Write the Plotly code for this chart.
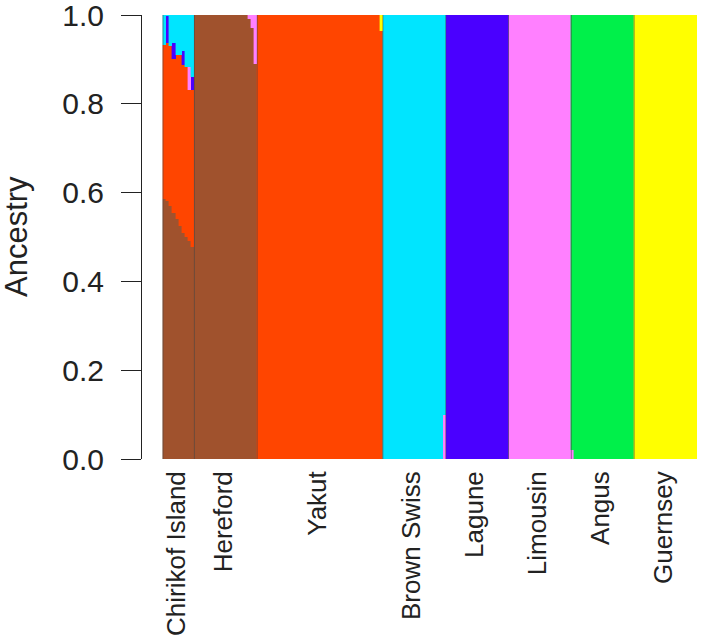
# Admixture barplot (K=7) in Plotly
import plotly.graph_objects as go

# population groups, in plotting order, and number of individuals in each
groups = ["Chirikof Island", "Hereford", "Yakut", "Brown Swiss",
          "Lagune", "Limousin", "Angus", "Guernsey"]
group_sizes = [10, 20, 40, 20, 20, 20, 20, 20]

# ancestry components, bottom to top of the stack, and their colours
components = ["Hereford", "Yakut", "Lagune", "Limousin", "Brown Swiss", "Angus", "Guernsey"]
comp_colors = ["#A0522D", "#FF4500", "#4A00FF", "#FF80FF", "#00E5FF", "#00F04A", "#FFFF00"]

# per-individual ancestry fractions
chirikof_hereford = [0.585, 0.58, 0.57, 0.555, 0.54, 0.525, 0.51, 0.50, 0.49, 0.478]
chirikof_yakut = [0.347, 0.357, 0.36, 0.345, 0.37, 0.385, 0.377, 0.383, 0.34, 0.352]
chirikof_lagune = [0.0, 0.06, 0.0, 0.037, 0.0, 0.0, 0.033, 0.0, 0.0, 0.03]
chirikof_limousin = [0.0, 0.0, 0.0, 0.0, 0.0, 0.0, 0.0, 0.0, 0.053, 0.0]
chirikof_brownswiss = [0.068, 0.003, 0.07, 0.063, 0.09, 0.09, 0.08, 0.117, 0.117, 0.14]

hereford_hereford = [1.0, 1.0, 1.0, 1.0, 1.0, 1.0, 1.0, 1.0, 1.0, 1.0,
                     1.0, 1.0, 1.0, 1.0, 1.0, 1.0, 1.0, 0.99, 0.97, 0.89]
hereford_limousin = [0.0, 0.0, 0.0, 0.0, 0.0, 0.0, 0.0, 0.0, 0.0, 0.0,
                     0.0, 0.0, 0.0, 0.0, 0.0, 0.0, 0.0, 0.01, 0.03, 0.11]

yakut_yakut = [1.0, 1.0, 1.0, 1.0, 1.0, 1.0, 1.0, 1.0, 1.0, 1.0,
               1.0, 1.0, 1.0, 1.0, 1.0, 1.0, 1.0, 1.0, 1.0, 1.0,
               1.0, 1.0, 1.0, 1.0, 1.0, 1.0, 1.0, 1.0, 1.0, 1.0,
               1.0, 1.0, 1.0, 1.0, 1.0, 1.0, 1.0, 1.0, 1.0, 0.965]
yakut_guernsey = [0.0, 0.0, 0.0, 0.0, 0.0, 0.0, 0.0, 0.0, 0.0, 0.0,
                  0.0, 0.0, 0.0, 0.0, 0.0, 0.0, 0.0, 0.0, 0.0, 0.0,
                  0.0, 0.0, 0.0, 0.0, 0.0, 0.0, 0.0, 0.0, 0.0, 0.0,
                  0.0, 0.0, 0.0, 0.0, 0.0, 0.0, 0.0, 0.0, 0.0, 0.035]

brownswiss_limousin = [0.0, 0.0, 0.0, 0.0, 0.0, 0.0, 0.0, 0.0, 0.0, 0.0,
                       0.0, 0.0, 0.0, 0.0, 0.0, 0.0, 0.0, 0.0, 0.0, 0.10]
brownswiss_brownswiss = [1.0, 1.0, 1.0, 1.0, 1.0, 1.0, 1.0, 1.0, 1.0, 1.0,
                         1.0, 1.0, 1.0, 1.0, 1.0, 1.0, 1.0, 1.0, 1.0, 0.90]

lagune_lagune = [1.0, 1.0, 1.0, 1.0, 1.0, 1.0, 1.0, 1.0, 1.0, 1.0,
                 1.0, 1.0, 1.0, 1.0, 1.0, 1.0, 1.0, 1.0, 1.0, 1.0]

limousin_limousin = [1.0, 1.0, 1.0, 1.0, 1.0, 1.0, 1.0, 1.0, 1.0, 1.0,
                     1.0, 1.0, 1.0, 1.0, 1.0, 1.0, 1.0, 1.0, 1.0, 1.0]

angus_limousin = [0.02, 0.0, 0.0, 0.0, 0.0, 0.0, 0.0, 0.0, 0.0, 0.0,
                  0.0, 0.0, 0.0, 0.0, 0.0, 0.0, 0.0, 0.0, 0.0, 0.0]
angus_angus = [0.98, 1.0, 1.0, 1.0, 1.0, 1.0, 1.0, 1.0, 1.0, 1.0,
               1.0, 1.0, 1.0, 1.0, 1.0, 1.0, 1.0, 1.0, 1.0, 1.0]

guernsey_guernsey = [1.0, 1.0, 1.0, 1.0, 1.0, 1.0, 1.0, 1.0, 1.0, 1.0,
                     1.0, 1.0, 1.0, 1.0, 1.0, 1.0, 1.0, 1.0, 1.0, 1.0]

y_ticks = [0.0, 0.2, 0.4, 0.6, 0.8, 1.0]

# which component arrays belong to which group
group_data = [
    {"Hereford": chirikof_hereford, "Yakut": chirikof_yakut, "Lagune": chirikof_lagune,
     "Limousin": chirikof_limousin, "Brown Swiss": chirikof_brownswiss},
    {"Hereford": hereford_hereford, "Limousin": hereford_limousin},
    {"Yakut": yakut_yakut, "Guernsey": yakut_guernsey},
    {"Limousin": brownswiss_limousin, "Brown Swiss": brownswiss_brownswiss},
    {"Lagune": lagune_lagune},
    {"Limousin": limousin_limousin},
    {"Limousin": angus_limousin, "Angus": angus_angus},
    {"Guernsey": guernsey_guernsey},
]

# build one long column per component
q = {c: [] for c in components}
for size, data in zip(group_sizes, group_data):
    for c in components:
        q[c].extend(data.get(c, [0.0] * size))

n = sum(group_sizes)
xs = list(range(n))

fig = go.Figure()
for c, col in zip(components, comp_colors):
    fig.add_trace(go.Bar(x=xs, y=q[c], width=1, name=c,
                         marker=dict(color=col, line=dict(color=col, width=0.4)),
                         showlegend=False, hoverinfo="skip"))

# group centres (labels sit a touch left, like R's las=2 text) and boundaries
centers, bounds = [], [-0.5]
start = 0
for size in group_sizes:
    centers.append(start + (size - 1) / 2 - 0.8)
    start += size
    bounds.append(start - 0.5)

for b in bounds[:-1]:
    fig.add_shape(type="line", x0=b, x1=b, y0=0, y1=1.01, xref="x", yref="y",
                  line=dict(color="rgba(70,70,70,0.55)", width=1))

# plot area starts 21px left of the bars so the y axis sits apart from them
left_m, right_m, W = 142, 4, 701
bar_px = (W - left_m - right_m - 21) / n
x_lo = -0.5 - 21 / bar_px

font_family = "Liberation Sans, Arial, Helvetica, sans-serif"
fig.update_layout(
    width=701, height=639,
    margin=dict(l=left_m, r=right_m, t=15, b=180),
    paper_bgcolor="white", plot_bgcolor="white",
    barmode="stack", bargap=0,
    font=dict(family=font_family, color="#222"),
    xaxis=dict(range=[x_lo, n - 0.5], tickvals=centers, ticktext=groups,
               tickangle=-90, ticks="", showline=False, showgrid=False,
               zeroline=False, tickfont=dict(size=26), ticklabelstandoff=6,
               automargin=False, ticklabeloverflow="allow"),
    yaxis=dict(range=[0, 1], tickvals=y_ticks, tickformat=".1f",
               showline=True, linecolor="#222", linewidth=1,
               ticks="outside", ticklen=20, tickwidth=1, tickcolor="#222",
               showgrid=False, zeroline=False, tickfont=dict(size=30),
               ticklabelstandoff=11, automargin=False,
               ticklabeloverflow="allow"),
    annotations=[dict(text="Ancestry", textangle=-90, xref="paper", yref="paper",
                      x=(16 - left_m) / (W - left_m - right_m), y=0.5,
                      xanchor="center", yanchor="middle", showarrow=False,
                      font=dict(size=31))],
)

# drop the default page margin so the figure sits at the window's corner
fig.write_html("out.html", config={"displayModeBar": False},
               post_script="document.body.style.margin='0';document.body.style.overflow='hidden';")
